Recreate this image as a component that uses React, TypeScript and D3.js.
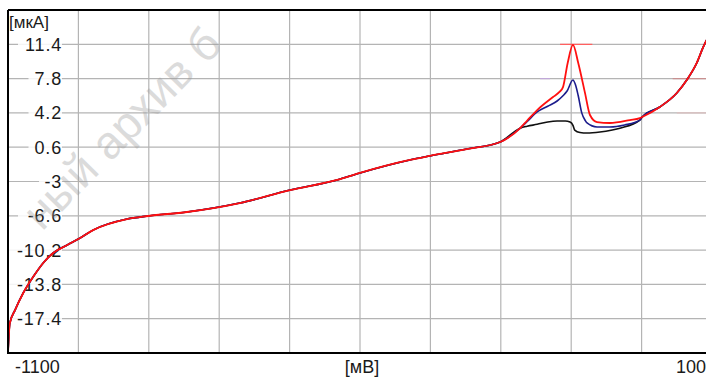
import React from "react";
import * as d3 from "d3";

// ---- data ----
const xGridValues = [-980, -860, -740, -620, -500, -380, -260, -140, -20];
const yTickValues = [11.4, 7.8, 4.2, 0.6, -3, -6.6, -10.2, -13.8, -17.4];
const yTickLabels = ["11.4", "7.8", "4.2", "0.6", "-3", "-6.6", "-10.2", "-13.8", "-17.4"];
const xEndLabels = ["-1100", "[мВ]", "100"];
const yUnitLabel = "[мкА]";
const watermarkText = "ный архив б";

// shared cathodic branch (all three curves coincide)
const leftPotential = [-1100, -1097, -1088, -1074, -1057, -1040, -1023, -999, -977, -955, -897, -861, -795, -705, -619, -539, -500, -415, -381, -318, -261, -227];
const leftCurrent = [-21, -17.9, -16.5, -14.7, -13.0, -11.55, -10.5, -9.67, -8.93, -8.1, -6.94, -6.62, -6.2, -5.26, -3.9, -2.84, -2.1, -0.74, -0.32, 0.41, 1.15, 2.6];

// shared anodic branch
const rightPotential = [-19, 11, 40, 57, 74, 85, 100];
const rightCurrent = [3.77, 4.82, 6.29, 7.65, 9.44, 11.1, 12.9];

// peak regions (series differ)
const blackPotential = [-215, -198, -180, -164, -150, -142, -137, -134, -125, -113, -91, -57, -23];
const blackCurrent = [2.8, 3.0, 3.25, 3.35, 3.35, 3.24, 2.9, 2.4, 2.15, 2.09, 2.2, 2.6, 3.45];

const bluePotential = [-215, -198, -180, -164, -154, -147, -137, -133, -128, -122, -116, -113, -96, -74, -49, -23];
const blueCurrent = [3.3, 4.3, 4.9, 5.45, 6.0, 6.5, 7.65, 7.2, 6.0, 4.2, 3.4, 3.14, 2.72, 2.72, 2.93, 3.45];

const redPotential = [-215, -198, -171, -160, -154, -146, -137, -128, -116.5, -108, -96, -74, -40, -23];
const redCurrent = [3.4, 4.5, 5.87, 6.4, 6.9, 9.44, 11.33, 9.44, 6.3, 3.98, 3.24, 3.14, 3.45, 3.66];

// faint peak-level marks
const markLevel = [11.4, 7.8, 7.8, 4.2];
const markFrom = [-159, -193, 33, 40];
const markTo = [-104, -176, 100, 100];
const markColor = ["#ff6060", "#c0a8d8", "#c89090", "#dcc0c0"];

const seriesNames = ["black", "blue", "red"];
const seriesColors = ["#101010", "#1c1c8c", "#ff1010"];

const W = 706;
const H = 378;

export default function App() {
  const x = d3.scaleLinear().domain([-1100, 100]).range([8, 712]);
  const y = d3.scaleLinear().domain([-21, 15]).range([353, 10]);

  const build = (pv: number[], pc: number[]) => {
    const pts: [number, number][] = [];
    leftPotential.forEach((v, i) => pts.push([v, leftCurrent[i]]));
    pv.forEach((v, i) => pts.push([v, pc[i]]));
    rightPotential.forEach((v, i) => pts.push([v, rightCurrent[i]]));
    return pts;
  };
  const series = [
    build(blackPotential, blackCurrent),
    build(bluePotential, blueCurrent),
    build(redPotential, redCurrent),
  ];
  const line = d3
    .line<[number, number]>()
    .x((d) => x(d[0]))
    .y((d) => y(d[1]))
    .curve(d3.curveMonotoneX);

  const font = "'Liberation Sans', Arial, sans-serif";

  return (
    <svg
      width={W}
      height={H}
      viewBox={`0 0 ${W} ${H}`}
      style={{ position: "absolute", left: 0, top: 0, background: "#fff" }}
    >
      <defs>
        <clipPath id="plotClip">
          <rect x={8} y={10} width={704} height={343} />
        </clipPath>
      </defs>
      <rect x={0} y={0} width={W} height={H} fill="#fff" />

      {/* grid */}
      <g stroke="#b4b4b4" strokeWidth={1.2}>
        {xGridValues.map((v) => (
          <line key={"vx" + v} x1={x(v)} x2={x(v)} y1={10} y2={353} />
        ))}
        {yTickValues.map((v) => (
          <line key={"hy" + v} x1={8} x2={712} y1={y(v)} y2={y(v)} />
        ))}
      </g>

      {/* faint marks */}
      <g clipPath="url(#plotClip)">
        {markLevel.map((lv, i) => (
          <line
            key={"m" + i}
            x1={x(markFrom[i])}
            x2={x(markTo[i])}
            y1={y(lv)}
            y2={y(lv)}
            stroke={markColor[i]}
            strokeWidth={1.2}
          />
        ))}
      </g>

      {/* y tick labels with white backing */}
      {yTickLabels.map((t, i) => {
        const yy = y(yTickValues[i]);
        const approxW = t.length * 10.5 + 2;
        return (
          <g key={"yl" + t}>
            <rect x={62 - approxW} y={yy - 8} width={approxW} height={16} fill="#fff" opacity={0.85} />
            <text
              x={62}
              y={yy + 6.5}
              textAnchor="end"
              fontFamily={font}
              fontSize={18}
              letterSpacing={0.8}
              fill="#1a1a1a"
            >
              {t}
            </text>
          </g>
        );
      })}

      {/* curves */}
      <g clipPath="url(#plotClip)" fill="none" strokeLinejoin="round" strokeLinecap="round">
        {series.map((s, i) => (
          <path
            key={seriesNames[i]}
            d={line(s) || ""}
            stroke={seriesColors[i]}
            strokeWidth={i === 2 ? 1.8 : 1.6}
          />
        ))}
      </g>

      {/* frame */}
      <g stroke="#000" strokeWidth={2}>
        <line x1={8} x2={706} y1={10} y2={10} />
        <line x1={8} x2={8} y1={10} y2={354} />
        <line x1={8} x2={706} y1={353} y2={353} />
      </g>

      {/* unit labels */}
      <text x={9} y={28} fontFamily={font} fontSize={17} fill="#1a1a1a">
        {yUnitLabel}
      </text>
      <text x={15} y={373} fontFamily={font} fontSize={18} fill="#1a1a1a">
        {xEndLabels[0]}
      </text>
      <text x={362} y={373} textAnchor="middle" fontFamily={font} fontSize={18} fill="#1a1a1a">
        {xEndLabels[1]}
      </text>
      <text x={706} y={373} textAnchor="end" fontFamily={font} fontSize={18} fill="#1a1a1a">
        {xEndLabels[2]}
      </text>

      {/* watermark */}
      <text
        x={0}
        y={0}
        transform="translate(42,232) rotate(-45.5)"
        fontFamily={font}
        fontSize={46}
        fill="#9a9a9a"
        opacity={0.35}
      >
        {watermarkText}
      </text>
    </svg>
  );
}
